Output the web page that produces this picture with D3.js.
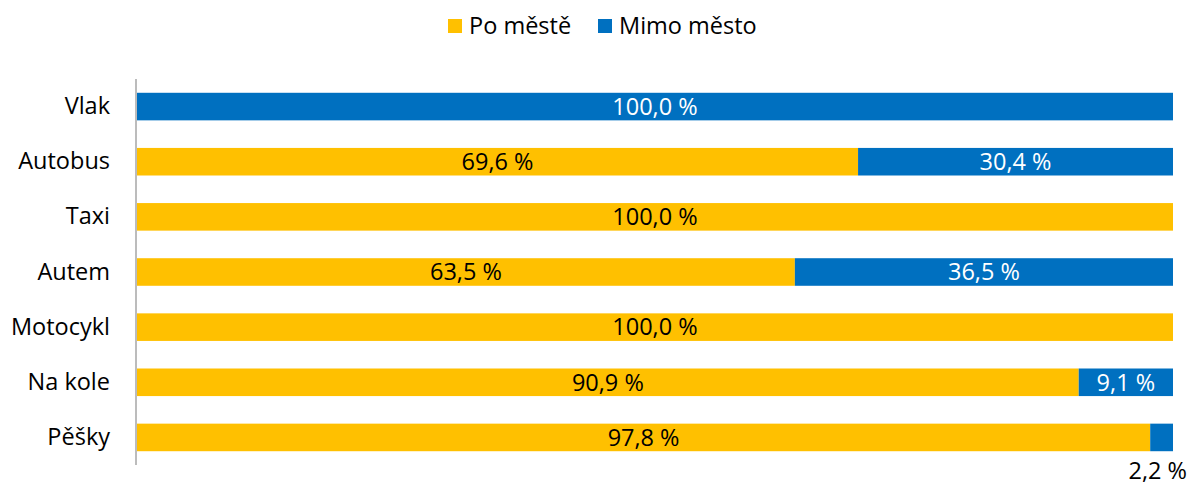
<!DOCTYPE html>
<html><head><meta charset="utf-8">
<script src="https://cdn.jsdelivr.net/npm/d3@7"></script>
<style>body{margin:0;background:#fff;} svg{display:block;font-family:"Open Sans", Lato, sans-serif;}</style>
</head><body>
<svg id="c" width="1192" height="486"></svg>
<script>
const categories = ["Vlak","Autobus","Taxi","Autem","Motocykl","Na kole","Pěšky"];
const poMeste = [0.0, 69.6, 100.0, 63.5, 100.0, 90.9, 97.8];
const mimoMesto = [100.0, 30.4, 0.0, 36.5, 0.0, 9.1, 2.2];
const seriesNames = ["Po městě","Mimo město"];
const colors = ["#FFC000","#0070C0"];

const FONT = "'Open Sans', Lato, sans-serif";
const FS = 23.5;
const svg = d3.select("#c");
const m = {l:137, r:19, t:79, b:21};
const W = 1192, H = 486;
const x = d3.scaleLinear().domain([0,100]).range([m.l, W-m.r]);
const y = d3.scaleBand().domain(categories).range([m.t, H-m.b]).paddingInner(0.5).paddingOuter(0.25);

const rows = categories.map((c,i)=>({c, vals:[poMeste[i], mimoMesto[i]]}));
const fmt = v => v.toFixed(1).replace(".", ",") + " %";

rows.forEach(r=>{
  let acc = 0;
  r.vals.forEach((v,k)=>{
    if(v<=0) return;
    const x0 = x(acc), x1 = x(acc+v);
    svg.append("rect").attr("x",x0).attr("y",y(r.c)).attr("width",x1-x0).attr("height",y.bandwidth())
      .attr("fill",colors[k]);
    const small = v < 5;
    const t = svg.append("text")
      .attr("x",(x0+x1)/2)
      .attr("y", small ? y(r.c)+y.bandwidth()+19.5 : y(r.c)+y.bandwidth()/2)
      .attr("dy","0.35em").attr("text-anchor","middle")
      .attr("font-size",FS)
      .attr("fill", k===1 && !small ? "#fff" : "#000")
      .text(fmt(v));
    if (small) {
      const w = t.node().getComputedTextLength();
      const cx = Math.min((x0+x1)/2, W - 5 - w/2);
      t.attr("x", cx);
    }
    acc += v;
  });
});

const ax = svg.append("g").attr("transform",`translate(${m.l-1},0)`)
  .call(d3.axisLeft(y).tickSize(0).tickPadding(26));
ax.select(".domain").attr("stroke","#A6A6A6").attr("stroke-width",1.5).attr("d",`M0,${m.t}V${H-m.b}`);
ax.selectAll("text").attr("font-size",FS).attr("fill","#000").attr("font-family",FONT);

// legend
const leg = svg.append("g");
const lx = [448, 598];
seriesNames.forEach((n,k)=>{
  leg.append("rect").attr("x",lx[k]).attr("y",19).attr("width",14).attr("height",14).attr("fill",colors[k]);
  leg.append("text").attr("x",lx[k]+21).attr("y",26).attr("dy","0.35em").attr("font-size",FS).attr("fill","#000").text(n);
});
</script>
</body></html>
